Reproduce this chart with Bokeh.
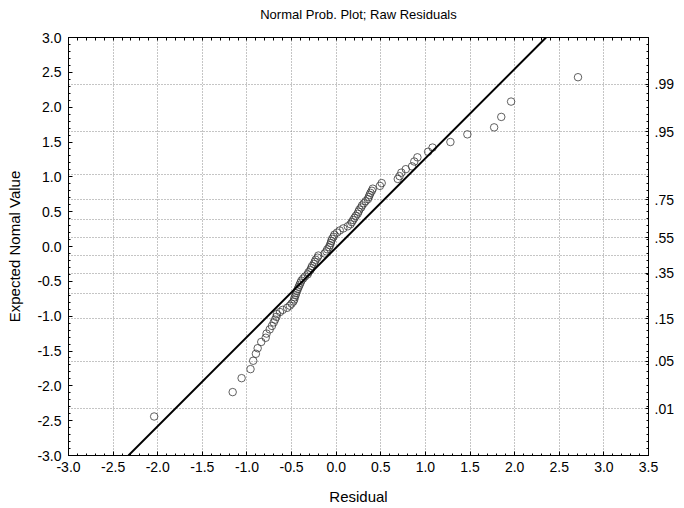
import numpy as np
from bokeh.plotting import figure
from bokeh.models import Range1d, LinearAxis, FixedTicker, PrintfTickFormatter, CustomJSTickFormatter, Slope
from bokeh.embed import file_html
from bokeh.resources import INLINE

# ---- data ----
resid_x = [-2.04, -1.16, -1.06, -0.96, -0.93, -0.90, -0.88, -0.84, -0.79, -0.78, -0.745, -0.72, -0.70, -0.685, -0.67,
           -0.665, -0.63, -0.60, -0.55, -0.52, -0.50, -0.48, -0.47, -0.466, -0.455, -0.45, -0.44, -0.43, -0.42, -0.41,
           -0.40, -0.39, -0.37, -0.35, -0.32, -0.31, -0.29, -0.28, -0.27, -0.25, -0.24, -0.23, -0.21, -0.20, -0.13,
           -0.11, -0.10, -0.08, -0.07, -0.06, -0.055, -0.045, -0.03, -0.02, 0.01, 0.04, 0.08, 0.13, 0.16, 0.175,
           0.19, 0.205, 0.22, 0.24, 0.25, 0.26, 0.28, 0.29, 0.31, 0.33, 0.355, 0.365, 0.375, 0.385, 0.40,
           0.41, 0.49, 0.51,
           0.69, 0.71, 0.73, 0.78, 0.85, 0.875, 0.91, 1.03, 1.08, 1.28, 1.47, 1.77, 1.85, 1.96, 2.71]
expected_y = [-2.44, -2.09, -1.89, -1.76, -1.64, -1.54, -1.46, -1.37, -1.31, -1.25, -1.19, -1.14, -1.09, -1.05, -1.01,
              -0.97, -0.94, -0.91, -0.88, -0.85, -0.82, -0.79, -0.76, -0.73, -0.70, -0.67, -0.64, -0.61, -0.58, -0.55,
              -0.52, -0.49, -0.46, -0.43, -0.40, -0.37, -0.34, -0.31, -0.28, -0.25, -0.22, -0.19, -0.16, -0.13, -0.10,
              -0.07, -0.04, -0.01, 0.02, 0.05, 0.08, 0.11, 0.14, 0.17, 0.20, 0.23, 0.26, 0.29, 0.32, 0.35,
              0.38, 0.41, 0.44, 0.47, 0.50, 0.53, 0.56, 0.59, 0.62, 0.65, 0.68, 0.71, 0.74, 0.77, 0.80,
              0.83, 0.87, 0.91,
              0.97, 1.01, 1.06, 1.11, 1.15, 1.22, 1.28, 1.36, 1.42, 1.50, 1.61, 1.71, 1.86, 2.08, 2.43]

fit_slope = 1.282
fit_intercept = -0.015

title_text = "Normal Prob. Plot; Raw Residuals"

x_tick_values = [-3.0, -2.5, -2.0, -1.5, -1.0, -0.5, 0.0, 0.5, 1.0, 1.5, 2.0, 2.5, 3.0, 3.5]
y_tick_values = [-3.0, -2.5, -2.0, -1.5, -1.0, -0.5, 0.0, 0.5, 1.0, 1.5, 2.0, 2.5, 3.0]
x_grid_values = [-2.5, -2.0, -1.5, -1.0, -0.5, 0.0, 0.5, 1.0, 1.5, 2.0, 2.5, 3.0]

prob_grid_z = [-2.3263, -1.6449, -1.0364, -0.6745, -0.3853, -0.1257, 0.1257, 0.3853, 0.6745, 1.0364, 1.6449, 2.3263]
prob_label_z = [-2.3263, -1.6449, -1.0364, -0.3853, 0.1257, 0.6745, 1.6449, 2.3263]
prob_labels = [".01", ".05", ".15", ".35", ".55", ".75", ".95", ".99"]

x_minor = [round(v, 1) for v in np.arange(-3.0, 3.51, 0.1)]
y_minor = [round(v, 1) for v in np.arange(-3.0, 3.01, 0.1)]

FONT = "Liberation Sans"

p = figure(frame_width=580, frame_height=418, x_range=Range1d(-3.0, 3.5), y_range=Range1d(-3.0, 3.0),
           output_backend="svg", toolbar_location=None,
           x_axis_label="Residual", y_axis_label="Expected Nomal Value",
           min_border_left=68, min_border_right=28, min_border_top=37, min_border_bottom=51)

p.background_fill_color = "white"
p.border_fill_color = "white"
p.outline_line_color = "black"
p.outline_line_width = 1

def style_axis(ax):
    ax.axis_line_color = "black"
    ax.major_tick_line_color = "black"
    ax.minor_tick_line_color = "black"
    ax.major_tick_in = 4
    ax.major_tick_out = 0
    ax.minor_tick_in = 2
    ax.minor_tick_out = 0
    ax.major_label_text_font = FONT
    ax.major_label_text_font_size = "14px"
    ax.major_label_text_color = "black"
    ax.axis_label_text_font = FONT
    ax.axis_label_text_font_size = "15px"
    ax.axis_label_text_font_style = "normal"
    ax.axis_label_text_color = "black"

xa = p.xaxis[0]
xa.ticker = FixedTicker(ticks=x_tick_values, minor_ticks=x_minor)
xa.formatter = PrintfTickFormatter(format="%.1f")
style_axis(xa)
xa.major_label_standoff = 6
xa.axis_label_standoff = 13

ya = p.yaxis[0]
ya.ticker = FixedTicker(ticks=y_tick_values, minor_ticks=y_minor)
ya.formatter = PrintfTickFormatter(format="%.1f")
style_axis(ya)
ya.major_label_standoff = 7
ya.axis_label_standoff = 11

# top frame edge: tick marks only; chart title carried as its label
top = LinearAxis(ticker=FixedTicker(ticks=[], minor_ticks=x_minor), axis_label=title_text)
style_axis(top)
top.minor_tick_in = 3
top.major_label_standoff = 0
top.axis_label_standoff = 16
top.axis_label_text_font_size = "13px"
p.add_layout(top, "above")

right = LinearAxis(ticker=FixedTicker(ticks=prob_label_z, minor_ticks=y_minor),
                   formatter=CustomJSTickFormatter(args=dict(zs=prob_label_z, labs=prob_labels),
                                                   code="for (let i = 0; i < zs.length; i++) { if (Math.abs(zs[i] - tick) < 1e-6) { return labs[i]; } } return '';"))
style_axis(right)
right.major_tick_in = 3
right.major_label_standoff = 6
p.add_layout(right, "right")

p.xgrid.ticker = FixedTicker(ticks=x_grid_values)
p.ygrid.ticker = FixedTicker(ticks=prob_grid_z)
for g in (p.xgrid[0], p.ygrid[0]):
    g.grid_line_color = "#8a8a8a"
    g.grid_line_dash = "1 2"
    g.grid_line_width = 1

p.add_layout(Slope(gradient=fit_slope, y_intercept=fit_intercept, line_color="black", line_width=2))

p.scatter(resid_x, expected_y, marker="circle", size=7.5, fill_color=None,
          line_color="#3a3a3a", line_width=0.8)

open("out.html", "w").write(file_html(p, INLINE))
